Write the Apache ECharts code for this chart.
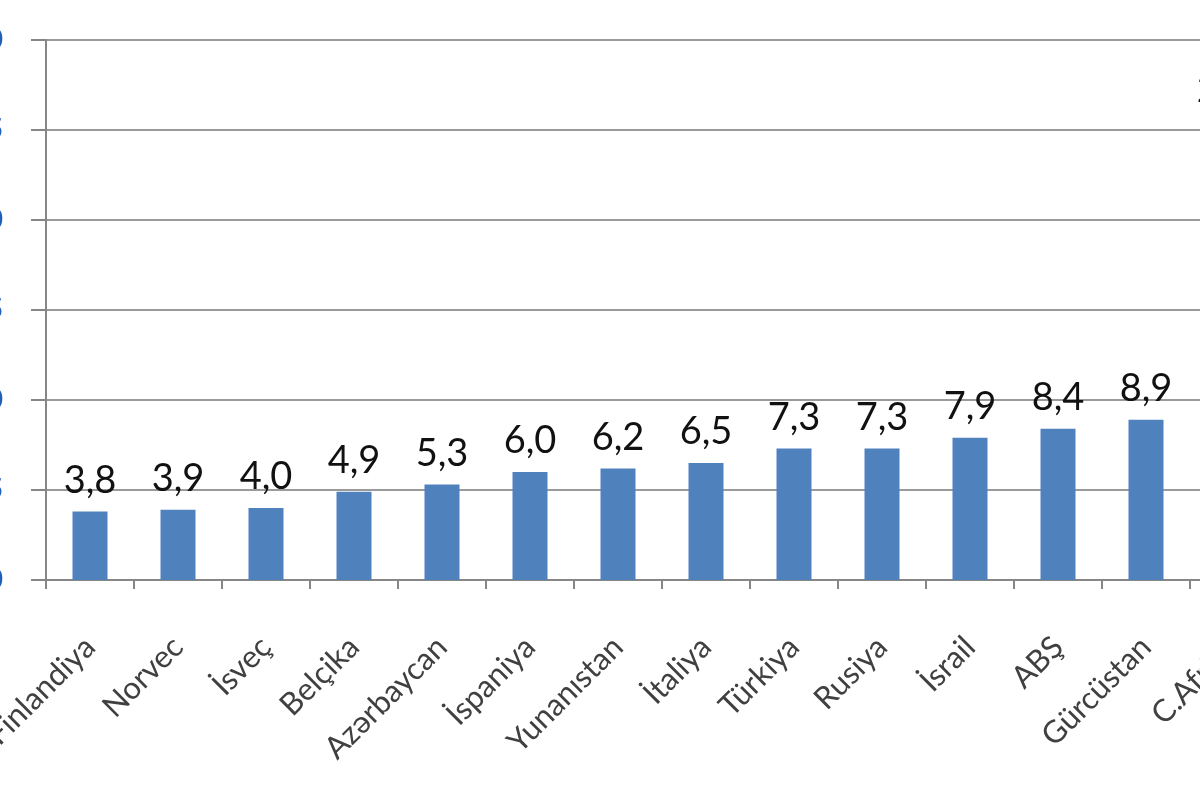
<!DOCTYPE html>
<html>
<head>
<meta charset="utf-8">
<script src="https://cdn.jsdelivr.net/npm/echarts@6/dist/echarts.min.js"></script>
<style>
  html, body { margin: 0; padding: 0; background: #fff; }
  #chart { width: 1200px; height: 800px; }
</style>
</head>
<body>
<div id="chart"></div>
<script>
const countries = ['Finlandiya', 'Norvec', 'İsveç', 'Belçika', 'Azərbaycan', 'İspaniya', 'Yunanıstan',
  'İtaliya', 'Türkiya', 'Rusiya', 'İsrail', 'ABŞ', 'Gürcüstan', 'C.Afrika']
const values = [3.8, 3.9, 4.0, 4.9, 5.3, 6.0, 6.2, 6.5, 7.3, 7.3, 7.9, 8.4, 8.9, 25.5]
const yTicks = [0, 5, 10, 15, 20, 25, 30]

const chart = echarts.init(document.getElementById('chart'))

chart.setOption({
  animation: false,
  grid: { left: 46, top: 40, bottom: 220, right: -78, containLabel: false, outerBoundsMode: 'none' },
  xAxis: {
    type: 'category',
    data: countries,
    axisLine: { lineStyle: { color: '#868686', width: 2 } },
    axisTick: { show: true, length: 9, lineStyle: { color: '#868686', width: 2 } },
    axisLabel: {
      rotate: 45,
      margin: 62,
      interval: 0,
      color: '#404040',
      fontFamily: 'Lato',
      fontSize: 31
    }
  },
  yAxis: {
    type: 'value',
    min: yTicks[0],
    max: yTicks[yTicks.length - 1],
    interval: 5,
    axisLine: { show: true, lineStyle: { color: '#868686', width: 2 } },
    axisTick: { show: true, length: 15, lineStyle: { color: '#868686', width: 2 } },
    splitLine: { lineStyle: { color: '#9a9a9a', width: 2 } },
    axisLabel: {
      margin: 43,
      color: '#1f5fb5',
      fontFamily: 'Lato',
      fontWeight: 'bold',
      fontSize: 28
    }
  },
  series: [{
    type: 'bar',
    data: values,
    barWidth: 35,
    itemStyle: { color: '#4f81bd' },
    label: {
      show: true,
      position: 'top',
      distance: 12,
      color: '#111',
      fontFamily: 'Lato',
      fontSize: 38,
      formatter: (p) => p.value.toFixed(1).replace('.', ',')
    }
  }]
})
</script>
</body>
</html>
